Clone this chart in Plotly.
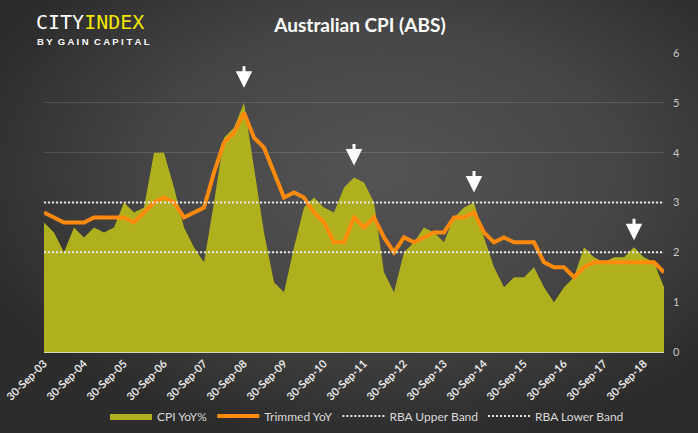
import base64
import pandas as pd
import plotly.graph_objects as go

# Quarterly categories: 30-Sep-03 .. 31-Mar-19
dates = [d.strftime("%d-%b-%y") for d in pd.date_range("2003-09-30", periods=63, freq="QE")]

cpi_yoy = [2.6, 2.4, 2.0, 2.5, 2.3, 2.5, 2.4, 2.5, 3.0, 2.8, 2.9, 4.0, 4.0, 3.3, 2.5, 2.1,
           1.8, 3.0, 4.3, 4.5, 5.0, 3.7, 2.4, 1.4, 1.2, 2.1, 2.9, 3.1, 2.9, 2.8, 3.3, 3.5,
           3.4, 3.0, 1.6, 1.2, 2.0, 2.2, 2.5, 2.4, 2.2, 2.7, 2.9, 3.0, 2.3, 1.7, 1.3, 1.5,
           1.5, 1.7, 1.3, 1.0, 1.3, 1.5, 2.1, 1.9, 1.8, 1.9, 1.9, 2.1, 1.9, 1.8, 1.3]

trimmed_yoy = [2.8, 2.7, 2.6, 2.6, 2.6, 2.7, 2.7, 2.7, 2.7, 2.6, 2.8, 3.0, 3.1, 3.0, 2.7, 2.8,
               2.9, 3.6, 4.2, 4.4, 4.8, 4.3, 4.1, 3.6, 3.1, 3.2, 3.1, 2.8, 2.6, 2.2, 2.2, 2.7,
               2.5, 2.7, 2.3, 2.0, 2.3, 2.2, 2.3, 2.4, 2.4, 2.7, 2.7, 2.8, 2.4, 2.2, 2.3, 2.2,
               2.2, 2.2, 1.8, 1.7, 1.7, 1.5, 1.7, 1.8, 1.8, 1.8, 1.8, 1.8, 1.8, 1.8, 1.6]

rba_upper = [3.0] * len(dates)
rba_lower = [2.0] * len(dates)

tick_labels = dates[::4]
y_ticks = [0, 1, 2, 3, 4, 5, 6]

# Peaks highlighted with arrows (index into the series)
arrow_idx = [20, 31, 43, 59]
arrow_gap = [15, 12, 10, 7]

FONT = "Lato"

fig = go.Figure()
fig.add_trace(go.Scatter(x=dates, y=cpi_yoy, name="CPI YoY%", mode="lines",
                         fill="tozeroy", fillcolor="#b0b01e",
                         line=dict(width=0, color="#b0b01e")))
fig.add_trace(go.Scatter(x=dates, y=trimmed_yoy, name="Trimmed YoY", mode="lines",
                         line=dict(width=4, color="#ff8a0c")))
fig.add_trace(go.Scatter(x=dates, y=rba_upper, name="RBA Upper Band", mode="lines",
                         line=dict(width=2, color="#e6e6e6", dash="2px,2px")))
fig.add_trace(go.Scatter(x=dates, y=rba_lower, name="RBA Lower Band", mode="lines",
                         line=dict(width=2, color="#e6e6e6", dash="2px,2px")))

W, H = 698, 433
ml, mr, mt, mb = 44, 34, 53, 81
pw, ph = W - ml - mr, H - mt - mb

svg = (f'<svg xmlns="http://www.w3.org/2000/svg" width="{W}" height="{H}">'
       '<defs><radialGradient id="g" cx="55%" cy="40%" r="62%">'
       '<stop offset="0" stop-color="#545454"/><stop offset="0.55" stop-color="#454545"/>'
       '<stop offset="1" stop-color="#2c2c2c"/></radialGradient></defs>'
       f'<rect width="{W}" height="{H}" fill="url(#g)"/></svg>')
src = "data:image/svg+xml;base64," + base64.b64encode(svg.encode()).decode()

annotations = [
    dict(text="<span style='color:#ffffff'>CITY</span><span style='color:#f2e600'>INDEX</span>",
         xref="paper", yref="paper", x=(34 - ml) / pw, y=1 + (mt - 22) / ph,
         xanchor="left", yanchor="middle", showarrow=False,
         font=dict(family="DejaVu Sans Mono", size=20, color="#ffffff")),
    dict(text="B Y  G A I N  C A P I T A L",
         xref="paper", yref="paper", x=(35 - ml) / pw, y=1 + (mt - 41) / ph,
         xanchor="left", yanchor="middle", showarrow=False,
         font=dict(family="Liberation Sans", size=9.5, color="#ffffff", weight="bold")),
]
for i, g in zip(arrow_idx, arrow_gap):
    annotations.append(dict(x=dates[i], y=cpi_yoy[i], xref="x", yref="y", text="",
                            showarrow=True, arrowhead=2, arrowsize=1.1, arrowwidth=3,
                            arrowcolor="#ffffff", ax=0, ay=-(g + 23), standoff=g))

fig.update_layout(
    width=W, height=H,
    margin=dict(l=ml, r=mr, t=mt, b=mb, autoexpand=False),
    paper_bgcolor="#3a3a3a", plot_bgcolor="rgba(0,0,0,0)",
    images=[dict(source=src, xref="paper", yref="paper", x=-ml / pw, y=1 + mt / ph,
                 sizex=W / pw, sizey=H / ph, sizing="stretch", layer="below")],
    title=dict(text="<b>Australian CPI (ABS)</b>", x=(360) / W, xanchor="center",
               y=1 - 25 / H, yanchor="middle",
               font=dict(family=FONT, size=19, color="#ffffff")),
    showlegend=True,
    legend=dict(orientation="h", x=(367 - ml) / pw, xanchor="center", y=-(64 / ph),
                yanchor="middle", itemwidth=42,
                font=dict(family=FONT, size=12, color="#d9d9d9"),
                bgcolor="rgba(0,0,0,0)"),
    annotations=annotations,
    xaxis=dict(type="category", range=[0, len(dates) - 1], tickvals=tick_labels,
               ticktext=tick_labels, tickangle=-45, showgrid=False, automargin=False,
               showline=True, linecolor="#d8d8b0", linewidth=1, ticks="",
               tickfont=dict(family=FONT, size=11, color="#e8e8e8", weight="bold")),
    yaxis=dict(side="right", range=[0, 6], tickvals=y_ticks, showgrid=True,
               gridcolor="rgba(255,255,255,0.13)", gridwidth=1, zeroline=False,
               ticks="", ticklabelstandoff=8, automargin=False,
               tickfont=dict(family=FONT, size=11, color="#c8c8c8")),
)

fig.write_html("out.html", config={"displayModeBar": False},
               post_script="document.body.style.margin='0px';")
